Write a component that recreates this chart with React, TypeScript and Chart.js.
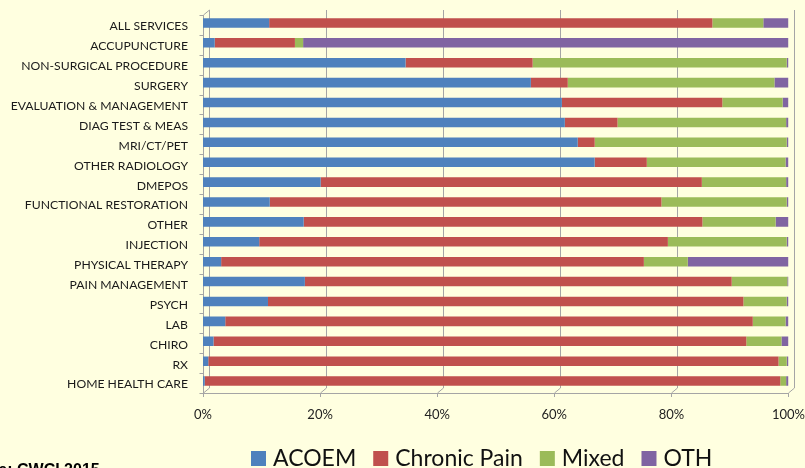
import React, { useEffect, useRef } from "react";
import { Chart, registerables } from "chart.js";

Chart.register(...registerables);

const categories = [
  "ALL SERVICES",
  "ACCUPUNCTURE",
  "NON-SURGICAL PROCEDURE",
  "SURGERY",
  "EVALUATION & MANAGEMENT",
  "DIAG TEST & MEAS",
  "MRI/CT/PET",
  "OTHER RADIOLOGY",
  "DMEPOS",
  "FUNCTIONAL RESTORATION",
  "OTHER",
  "INJECTION",
  "PHYSICAL THERAPY",
  "PAIN MANAGEMENT",
  "PSYCH",
  "LAB",
  "CHIRO",
  "RX",
  "HOME HEALTH CARE",
];

// Share of each service category (%) by guideline group
const acoem = [11.3, 2.0, 34.6, 56.0, 61.3, 61.8, 64.0, 66.9, 20.1, 11.4, 17.2, 9.6, 3.1, 17.4, 11.1, 3.8, 1.8, 0.9, 0.3];
const chronicPain = [75.7, 13.7, 21.7, 6.3, 27.4, 9.0, 2.9, 8.9, 65.1, 66.9, 68.1, 69.8, 72.2, 72.9, 81.2, 90.1, 91.0, 97.4, 98.3];
const mixed = [8.7, 1.4, 43.4, 35.3, 10.3, 28.8, 32.8, 23.7, 14.4, 21.4, 12.5, 20.3, 7.5, 9.5, 7.4, 5.6, 6.0, 1.4, 1.0];
const oth = [4.3, 82.9, 0.3, 2.4, 1.0, 0.4, 0.3, 0.5, 0.4, 0.3, 2.2, 0.3, 17.2, 0.2, 0.3, 0.5, 1.2, 0.3, 0.4];

const seriesNames = ["ACOEM", "Chronic Pain", "Mixed", "OTH"];
const seriesColors = ["#4F81BD", "#C0504D", "#9BBB59", "#8064A2"];
const xTicks = [0, 20, 40, 60, 80, 100];
const sourceNote = "Source: CWCI 2015";

const BG = "#FFFFE0";
const GRID = "#A5A5A5";
const DEPTH_X = 6;
const DEPTH_Y = 5;

// Draws the box frame: back wall gridlines, left wall and floor edges
const framePlugin = {
  id: "frame3d",
  beforeDatasetsDraw(chart: any) {
    const { ctx, chartArea, scales } = chart;
    const xs = scales.x;
    const top = chartArea.top;
    const bottom = chartArea.bottom;
    ctx.save();
    ctx.strokeStyle = GRID;
    ctx.lineWidth = 1;
    const backTop = top - 3;
    const backBottom = bottom - 3;
    xTicks.forEach((v) => {
      const px = Math.round(xs.getPixelForValue(v)) + 0.5;
      ctx.beginPath();
      ctx.moveTo(px + DEPTH_X, backTop);
      ctx.lineTo(px + DEPTH_X, backBottom);
      ctx.stroke();
      // floor tick
      ctx.beginPath();
      ctx.moveTo(px + DEPTH_X, backBottom);
      ctx.lineTo(px, backBottom + DEPTH_Y);
      ctx.lineTo(px, backBottom + DEPTH_Y + 4);
      ctx.stroke();
    });
    const x0 = Math.round(xs.getPixelForValue(0)) + 0.5;
    const x1 = Math.round(xs.getPixelForValue(100)) + 0.5;
    // front left wall edge
    ctx.beginPath();
    ctx.moveTo(x0 + DEPTH_X, backTop);
    ctx.lineTo(x0, backTop + DEPTH_Y);
    ctx.lineTo(x0, backBottom + DEPTH_Y);
    ctx.stroke();
    // floor front edge
    ctx.beginPath();
    ctx.moveTo(x0, Math.round(backBottom + DEPTH_Y) + 0.5);
    ctx.lineTo(x1, Math.round(backBottom + DEPTH_Y) + 0.5);
    ctx.stroke();
    // left wall ticks
    const ys = scales.y;
    for (let i = 0; i <= categories.length; i++) {
      const y = Math.round(ys.top + (i * (ys.bottom - ys.top)) / categories.length) + 0.5;
      ctx.beginPath();
      ctx.moveTo(x0, y + 2);
      ctx.lineTo(x0 - 4, y + 2);
      ctx.stroke();
    }
    ctx.restore();
  },
  afterDraw(chart: any) {
    const { ctx } = chart;
    ctx.save();
    // legend row
    ctx.font = "23px Lato";
    ctx.textBaseline = "alphabetic";
    let x = 251;
    const boxTop = 451;
    const boxSize = 15;
    seriesNames.forEach((name, i) => {
      ctx.fillStyle = seriesColors[i];
      ctx.fillRect(x, boxTop, boxSize, boxSize);
      ctx.fillStyle = "#111111";
      const tx = x + boxSize + 7;
      ctx.fillText(name, tx, 466);
      x = tx + ctx.measureText(name).width + 17;
    });
    // source note
    ctx.font = "bold 16px 'Liberation Sans'";
    ctx.fillStyle = "#000000";
    ctx.fillText(sourceNote, -47, 474.5);
    ctx.restore();
  },
};

export default function App() {
  const canvasRef = useRef<HTMLCanvasElement | null>(null);

  useEffect(() => {
    document.body.style.margin = "0";
    const canvas = canvasRef.current;
    if (!canvas) return;
    const datasets = [acoem, chronicPain, mixed, oth].map((data, i) => ({
      label: seriesNames[i],
      data,
      backgroundColor: seriesColors[i],
      borderWidth: 0,
      barPercentage: 0.48,
      categoryPercentage: 1,
    }));
    const chart = new Chart(canvas, {
      type: "bar",
      data: { labels: categories, datasets },
      options: {
        indexAxis: "y",
        animation: false,
        responsive: false,
        devicePixelRatio: 1,
        layout: { padding: { top: 13, right: 0, bottom: 0, left: 0 } },
        plugins: {
          legend: { display: false },
          tooltip: { enabled: false },
        },
        scales: {
          x: {
            stacked: true,
            min: 0,
            max: 100,
            afterFit(scale: any) {
              scale.height = 77;
            },
            afterBuildTicks(scale: any) {
              scale.ticks = xTicks.map((v) => ({ value: v }));
            },
            grid: { display: false, drawTicks: true, tickLength: 16 },
            border: { display: false },
            ticks: {
              padding: 0,
              color: "#222222",
              font: { family: "Lato", size: 13 },
              callback: (v: any) => `${v}%`,
            },
          },
          y: {
            stacked: true,
            afterFit(scale: any) {
              scale.width = 203;
            },
            grid: { display: false, drawTicks: true, tickLength: 15 },
            border: { display: false },
            ticks: {
              padding: 0,
              labelOffset: 3.5,
              autoSkip: false,
              color: "#1A1A1A",
              font: { family: "Lato", size: 12.2 },
            },
          },
        },
      },
      plugins: [framePlugin],
    });
    return () => chart.destroy();
  }, []);

  return (
    <div style={{ position: "absolute", left: 0, top: 0, width: 805, height: 468, background: BG, overflow: "hidden" }}>
      <canvas ref={canvasRef} width={805} height={468} style={{ display: "block", width: 805, height: 468 }} />
    </div>
  );
}
